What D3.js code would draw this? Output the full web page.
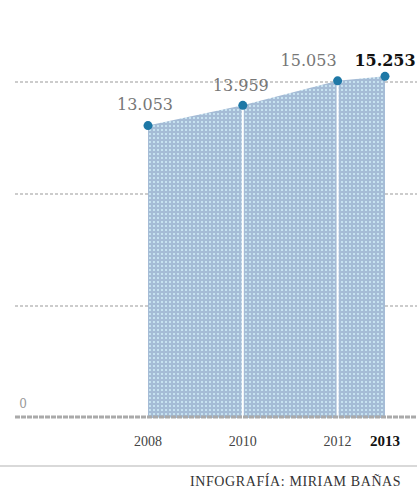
<!DOCTYPE html>
<html>
<head>
<meta charset="utf-8">
<script src="https://cdn.jsdelivr.net/npm/d3@7"></script>
<style>
  body { margin: 0; background: #fff; }
  svg { display: block; }
  .val { font-family: "DejaVu Serif", serif; font-size: 16px; fill: #666; }
  .year { font-family: "Liberation Serif", serif; font-size: 14px; fill: #444; }
</style>
</head>
<body>
<svg width="417" height="489"></svg>
<script>
// datos
const years = [2008, 2010, 2012, 2013];
const values = [13053, 13959, 15053, 15253];
const valueLabels = ["13.053", "13.959", "15.053", "15.253"];
const gridTicks = [0, 5000, 10000, 15000];
const credit = "INFOGRAFÍA: MIRIAM BAÑAS";

const svg = d3.select('svg');

const x = d3.scaleLinear().domain([2008, 2013]).range([148, 385]);
const y = d3.scaleLinear().domain([0, 15000]).range([418, 82]);

const data = years.map((yr, i) => ({ year: yr, value: values[i], label: valueLabels[i] }));

// pattern de puntos
const defs = svg.append('defs');
const pat = defs.append('pattern')
  .attr('id', 'dots')
  .attr('width', 4).attr('height', 4)
  .attr('patternUnits', 'userSpaceOnUse');
pat.append('rect').attr('width', 4).attr('height', 4).attr('fill', '#a5bcd6');
pat.append('rect').attr('x', 1).attr('y', 1).attr('width', 2).attr('height', 2).attr('fill', '#c6e2f0');

// rejilla
svg.append('g')
  .selectAll('line')
  .data(gridTicks.filter(d => d > 0))
  .enter()
  .append('line')
  .attr('x1', 15)
  .attr('x2', 417)
  .attr('y1', d => y(d))
  .attr('y2', d => y(d))
  .attr('stroke', '#999')
  .attr('stroke-width', 1)
  .attr('stroke-dasharray', '3,2');

// area
const area = d3.area()
  .x(d => x(d.year))
  .y0(y(0))
  .y1(d => y(d.value));

svg.append('path')
  .datum(data)
  .attr('d', area)
  .attr('fill', 'url(#dots)');

// lineas blancas
svg.append('g')
  .selectAll('line')
  .data(data.filter((d, i) => i > 0 && i < data.length - 1))
  .enter()
  .append('line')
  .attr('x1', d => x(d.year))
  .attr('x2', d => x(d.year))
  .attr('y1', d => y(d.value))
  .attr('y2', y(0))
  .attr('stroke', '#fff')
  .attr('stroke-width', 2);

// eje inferior
svg.append('line')
  .attr('x1', 15).attr('x2', 417)
  .attr('y1', y(0) - 1).attr('y2', y(0) - 1)
  .attr('stroke', '#aaa')
  .attr('stroke-width', 3)
  .attr('stroke-dasharray', '5,1');

svg.append('text')
  .attr('class', 'val')
  .attr('x', 23)
  .attr('y', y(0) - 10)
  .attr('text-anchor', 'middle')
  .style('font-size', '12px')
  .style('fill', '#999')
  .text(gridTicks[0]);

// puntos
svg.append('g')
  .selectAll('circle')
  .data(data)
  .enter()
  .append('circle')
  .attr('cx', d => x(d.year))
  .attr('cy', d => y(d.value))
  .attr('r', 4.5)
  .attr('fill', '#1e78a6');

// etiquetas de valor
const dx = [-3, -2, -29, 0];
const dy = [-16, -14, -15, -10];
svg.append('g')
  .selectAll('text')
  .data(data)
  .enter()
  .append('text')
  .attr('class', 'val')
  .attr('x', (d, i) => x(d.year) + dx[i])
  .attr('y', (d, i) => y(d.value) + dy[i])
  .attr('text-anchor', 'middle')
  .style('font-weight', (d, i) => i === data.length - 1 ? 'bold' : 'normal')
  .style('fill', (d, i) => i === data.length - 1 ? '#111' : '#777')
  .text(d => d.label);

// años
svg.append('g')
  .selectAll('text')
  .data(data)
  .enter()
  .append('text')
  .attr('class', 'year')
  .attr('x', d => x(d.year))
  .attr('y', 446)
  .attr('text-anchor', 'middle')
  .style('font-size', (d, i) => i === data.length - 1 ? '15px' : '14px')
  .style('font-weight', (d, i) => i === data.length - 1 ? 'bold' : 'normal')
  .style('fill', (d, i) => i === data.length - 1 ? '#111' : '#444')
  .text(d => d.year);

// pie
svg.append('line')
  .attr('x1', 0).attr('x2', 417)
  .attr('y1', 466).attr('y2', 466)
  .attr('stroke', '#ccc')
  .attr('stroke-width', 1.5);

svg.append('text')
  .attr('x', 190)
  .attr('y', 486)
  .style('font-family', '"Liberation Serif", serif')
  .style('font-size', '14px')
  .style('letter-spacing', '0.6px')
  .style('fill', '#333')
  .text(credit);
</script>
</body>
</html>
